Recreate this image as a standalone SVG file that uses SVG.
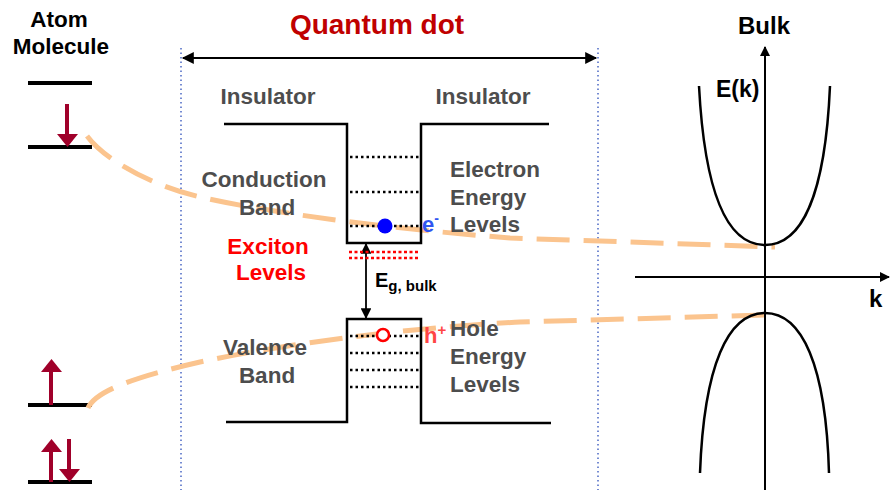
<svg xmlns="http://www.w3.org/2000/svg" width="892" height="490" viewBox="0 0 892 490">
<defs>
<style>
.t{font-family:"Liberation Sans",Arial,sans-serif;font-weight:bold}
.lbl{font-size:22.5px;fill:#4d4d4d}
.blk{fill:#000}
.lvl{stroke:#000;stroke-width:4}
.wall{fill:none;stroke:#000;stroke-width:2.5}
.dot{stroke:#000;stroke-width:2.5;stroke-dasharray:2.5 3}
.exc{stroke:#ff0000;stroke-width:2.5;stroke-dasharray:3 2.5}
.guide{stroke:#4a67c4;stroke-width:1.5;stroke-dasharray:1.5 3}
.orange{fill:none;stroke:#fbc48e;stroke-width:5;stroke-dasharray:33 14}
.spin{stroke:#a0002a;stroke-width:4}
.curve{fill:none;stroke:#000;stroke-width:2.5}
</style>
<marker id="ah" viewBox="0 0 10 10" refX="9" refY="5" markerWidth="5" markerHeight="5" orient="auto-start-reverse" markerUnits="strokeWidth">
<path d="M0,0 L10,5 L0,10 z" fill="#000"/>
</marker>
<marker id="ah2" viewBox="0 0 10 10" refX="9" refY="5" markerWidth="7" markerHeight="6" orient="auto-start-reverse" markerUnits="strokeWidth">
<path d="M0,0 L10,5 L0,10 z" fill="#000"/>
</marker>
</defs>
<rect width="892" height="490" fill="#fff"/>

<g id="atom">
<text class="t blk" x="59" y="27" font-size="22.5" text-anchor="middle">Atom</text>
<text class="t blk" x="61" y="54" font-size="22.5" text-anchor="middle">Molecule</text>
<line class="lvl" x1="28" y1="83" x2="92" y2="83"/>
<line class="lvl" x1="28" y1="147" x2="92" y2="147"/>
<line class="lvl" x1="28" y1="405" x2="92" y2="405"/>
<line class="lvl" x1="28" y1="482" x2="92" y2="482"/>
<line class="spin" x1="67" y1="104" x2="67" y2="136"/>
<polygon points="57,134 78,134 67.5,147" fill="#a0002a"/>
<line class="spin" x1="51" y1="405" x2="51" y2="370"/>
<polygon points="41,372 62,372 51.5,359" fill="#a0002a"/>
<line class="spin" x1="51" y1="482" x2="51" y2="450"/>
<polygon points="41,452 62,452 51.5,439" fill="#a0002a"/>
<line class="spin" x1="69" y1="439" x2="69" y2="471"/>
<polygon points="59,469 80,469 69.5,482" fill="#a0002a"/>
</g>

<g id="qd-title">
<text class="t" x="377" y="34" font-size="28" fill="#c00000" text-anchor="middle">Quantum dot</text>
<line class="guide" x1="181" y1="48" x2="181" y2="490"/>
<line class="guide" x1="598" y1="48" x2="598" y2="490"/>
</g>

<g id="orange-guides">
<path class="orange" d="M87,136 C105,160 150,185 200,197 C260,211 380,228 510,238 L775,247"/>
<path class="orange" d="M88,408 C95,392 130,378 200,362 C280,345 400,328 520,322 L765,315"/>
</g>

<g id="connectors">
<line x1="183" y1="58" x2="596" y2="58" stroke="#000" stroke-width="2" marker-start="url(#ah2)" marker-end="url(#ah2)"/>
<line x1="366" y1="244" x2="366" y2="318" stroke="#000" stroke-width="1.8" marker-start="url(#ah2)" marker-end="url(#ah2)"/>
</g>

<g id="insulators">
<text class="t lbl" x="268" y="104" text-anchor="middle">Insulator</text>
<text class="t lbl" x="483" y="104" text-anchor="middle">Insulator</text>
</g>

<g id="conduction-well">
<path class="wall" d="M224,124 H347 V243 H421 V124 H549"/>
<line class="dot" x1="350" y1="157" x2="419" y2="157"/>
<line class="dot" x1="350" y1="192" x2="419" y2="192"/>
<line class="dot" x1="350" y1="226" x2="419" y2="226"/>
<line class="exc" x1="349" y1="252" x2="420" y2="252"/>
<line class="exc" x1="349" y1="258" x2="420" y2="258"/>
<circle cx="385" cy="226" r="7.5" fill="#0000ff"/>
<text class="t" x="422" y="232" font-size="22" fill="#2f55f0">e<tspan font-size="14" dy="-9">-</tspan></text>
</g>

<g id="valence-well">
<path class="wall" d="M226,422 H347 V319 H421 V423 H551"/>
<line class="dot" x1="350" y1="336" x2="419" y2="336"/>
<line class="dot" x1="350" y1="353" x2="419" y2="353"/>
<line class="dot" x1="350" y1="370" x2="419" y2="370"/>
<line class="dot" x1="350" y1="387" x2="419" y2="387"/>
<circle cx="383" cy="335" r="6" fill="#fff" stroke="#ff0000" stroke-width="2.5"/>
<text class="t" x="424" y="343" font-size="22" fill="#ff4545">h<tspan font-size="15" dy="-8">+</tspan></text>
</g>

<g id="gap-label">
<text class="t blk" x="375" y="287" font-size="20">E<tspan font-size="15" dy="4">g, bulk</tspan></text>
</g>

<g id="band-labels">
<text class="t lbl" x="264" y="187" text-anchor="middle">Conduction</text>
<text class="t lbl" x="267" y="215" text-anchor="middle">Band</text>
<text class="t" x="268" y="254" font-size="22.5" fill="#ff0000" text-anchor="middle">Exciton</text>
<text class="t" x="271" y="280" font-size="22.5" fill="#ff0000" text-anchor="middle">Levels</text>
<text class="t lbl" x="265" y="355" text-anchor="middle">Valence</text>
<text class="t lbl" x="267" y="383" text-anchor="middle">Band</text>
<text class="t lbl" x="450" y="177">Electron</text>
<text class="t lbl" x="450" y="205">Energy</text>
<text class="t lbl" x="450" y="232">Levels</text>
<text class="t lbl" x="450" y="336">Hole</text>
<text class="t lbl" x="450" y="364">Energy</text>
<text class="t lbl" x="450" y="392">Levels</text>
</g>

<g id="bulk">
<text class="t blk" x="764" y="34" font-size="24" text-anchor="middle">Bulk</text>
<text class="t blk" x="716" y="97" font-size="23">E(k)</text>
<text class="t blk" x="869" y="307" font-size="24">k</text>
<line x1="765" y1="490" x2="765" y2="47" stroke="#000" stroke-width="2" marker-end="url(#ah)"/>
<line x1="635" y1="277" x2="889" y2="277" stroke="#000" stroke-width="2" marker-end="url(#ah)"/>
<path class="curve" d="M699,86 C705,200 730,245 765,245 C800,245 825,200 830,86"/>
<path class="curve" d="M700,473 C704,365 728,313 765,313 C802,313 826,365 829,473"/>
</g>
</svg>
